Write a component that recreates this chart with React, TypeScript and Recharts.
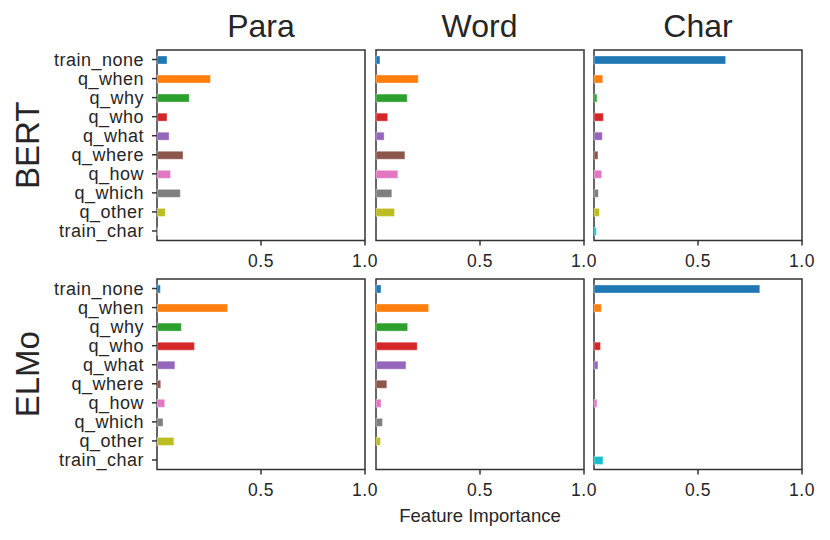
import { BarChart, Bar, XAxis, YAxis, Cell, ReferenceArea } from "recharts";

const categories = [
  "train_none",
  "q_when",
  "q_why",
  "q_who",
  "q_what",
  "q_where",
  "q_how",
  "q_which",
  "q_other",
  "train_char",
];

const bertPara = [0.048, 0.257, 0.155, 0.048, 0.058, 0.125, 0.065, 0.112, 0.04, 0.002];
const bertWord = [0.019, 0.203, 0.15, 0.056, 0.039, 0.139, 0.105, 0.076, 0.089, 0];
const bertChar = [0.633, 0.042, 0.014, 0.045, 0.04, 0.019, 0.037, 0.021, 0.026, 0.011];
const elmoPara = [0.016, 0.339, 0.117, 0.18, 0.086, 0.018, 0.037, 0.029, 0.081, 0];
const elmoWord = [0.024, 0.253, 0.152, 0.198, 0.144, 0.052, 0.024, 0.031, 0.021, 0];
const elmoChar = [0.797, 0.035, 0, 0.031, 0.019, 0, 0.014, 0, 0, 0.043];

const columnTitles = ["Para", "Word", "Char"];
const rowTitles = ["BERT", "ELMo"];
const xTicks = [0.5, 1];

// matplotlib tab10
const COLORS = [
  "#1f77b4",
  "#ff7f0e",
  "#2ca02c",
  "#d62728",
  "#9467bd",
  "#8c564b",
  "#e377c2",
  "#7f7f7f",
  "#bcbd22",
  "#17becf",
];

const FONT = "'Liberation Sans', Arial, sans-serif";
const TEXT = "#262626";
const SPINE = "#333333";

const COL_LEFT = [157, 375.5, 594];
const ROW_TOP = [50, 279];
const PLOT_W = 208;
const PLOT_H = 190.5;
const PAD = 10;
const Y_AXIS_W = 147;
const X_AXIS_H = 35;

const grid = [
  [bertPara, bertWord, bertChar],
  [elmoPara, elmoWord, elmoChar],
];

function Panel({ values, col, row }: { values: number[]; col: number; row: number }) {
  const data = categories.map((name, i) => ({ name, value: values[i] }));
  const showY = col === 0;
  const left = showY ? 0 : COL_LEFT[col] - PAD;
  const width = (showY ? PAD + Y_AXIS_W : PAD) + PLOT_W + 20;
  const height = PAD + PLOT_H + X_AXIS_H;

  return (
    <div style={{ position: "absolute", left, top: ROW_TOP[row] - PAD, width, height }}>
      <BarChart
        width={width}
        height={height}
        data={data}
        layout="vertical"
        margin={{ top: PAD, right: 20, bottom: 0, left: PAD }}
        barCategoryGap={0}
      >
        <XAxis
          type="number"
          domain={[0, 1]}
          ticks={xTicks}
          tickFormatter={(v: number) => v.toFixed(1)}
          height={X_AXIS_H}
          tickSize={5}
          tickMargin={9}
          axisLine={false}
          tickLine={{ stroke: SPINE, strokeWidth: 1.5 }}
          tick={{ fontSize: 17.5, fill: TEXT, fontFamily: FONT, letterSpacing: 0.5 }}
        />
        <YAxis
          type="category"
          dataKey="name"
          hide={!showY}
          width={showY ? Y_AXIS_W : 0}
          interval={0}
          tickSize={5}
          tickMargin={8}
          axisLine={false}
          tickLine={{ stroke: SPINE, strokeWidth: 1.5 }}
          tick={{ fontSize: 18, fill: TEXT, fontFamily: FONT, letterSpacing: 0.5 }}
        />
        <Bar
          dataKey="value"
          barSize={8}
          isAnimationActive={false}
          stroke="#ffffff"
          strokeOpacity={0.35}
          strokeWidth={1}
        >
          {data.map((d, i) => (
            <Cell key={d.name} fill={COLORS[i % COLORS.length]} />
          ))}
        </Bar>
        <ReferenceArea x1={0} x2={1} fill="none" stroke={SPINE} strokeWidth={1.5} />
      </BarChart>
    </div>
  );
}

export default function App() {
  return (
    <div
      style={{
        position: "absolute",
        left: 0,
        top: 0,
        width: 830,
        height: 540,
        background: "#ffffff",
        fontFamily: FONT,
      }}
    >
      {grid.map((rowData, r) =>
        rowData.map((values, c) => <Panel key={`${r}-${c}`} values={values} col={c} row={r} />)
      )}
      <svg
        width={830}
        height={540}
        style={{ position: "absolute", left: 0, top: 0, pointerEvents: "none" }}
      >
        {columnTitles.map((t, c) => (
          <text
            key={t}
            x={COL_LEFT[c] + PLOT_W / 2}
            y={37}
            textAnchor="middle"
            fontSize={32}
            fontFamily={FONT}
            fill={TEXT}
          >
            {t}
          </text>
        ))}
        {rowTitles.map((t, r) => {
          const cx = 38.5;
          const cy = ROW_TOP[r] + PLOT_H / 2;
          return (
            <text
              key={t}
              x={cx}
              y={cy}
              transform={`rotate(-90, ${cx}, ${cy})`}
              textAnchor="middle"
              fontSize={33}
              fontFamily={FONT}
              fill={TEXT}
            >
              {t}
            </text>
          );
        })}
        <text x={480} y={521.5} textAnchor="middle" fontSize={18.5} fontFamily={FONT} fill={TEXT}>
          Feature Importance
        </text>
      </svg>
    </div>
  );
}
